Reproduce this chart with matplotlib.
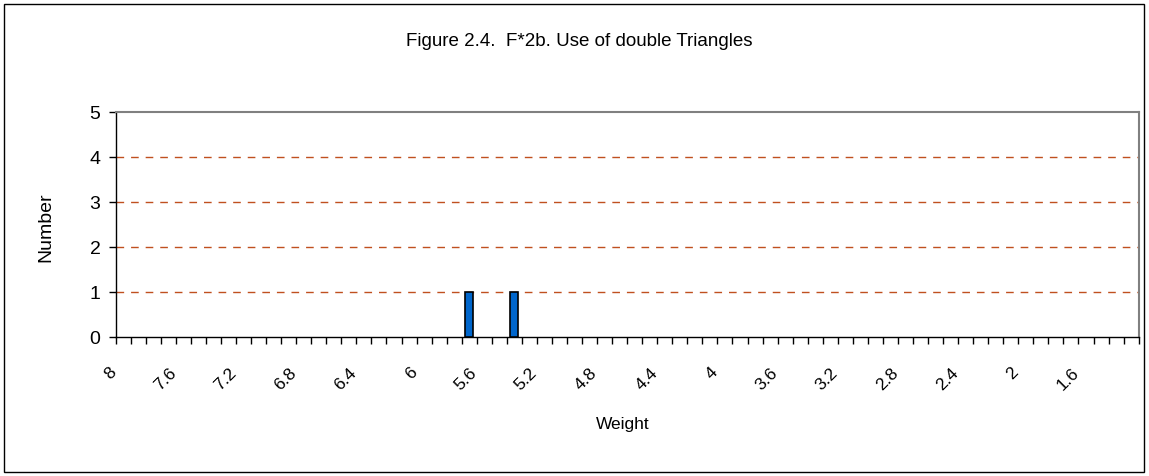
import matplotlib
matplotlib.use("Agg")
import matplotlib.pyplot as plt
import matplotlib.transforms as mtransforms
from matplotlib.patches import Rectangle

# weight classes (categories) and number of fish in each
weights = ["8", "7.9", "7.8", "7.7", "7.6", "7.5", "7.4", "7.3", "7.2", "7.1",
           "7", "6.9", "6.8", "6.7", "6.6", "6.5", "6.4", "6.3", "6.2", "6.1",
           "6", "5.9", "5.8", "5.7", "5.6", "5.5", "5.4", "5.3", "5.2", "5.1",
           "5", "4.9", "4.8", "4.7", "4.6", "4.5", "4.4", "4.3", "4.2", "4.1",
           "4", "3.9", "3.8", "3.7", "3.6", "3.5", "3.4", "3.3", "3.2", "3.1",
           "3", "2.9", "2.8", "2.7", "2.6", "2.5", "2.4", "2.3", "2.2", "2.1",
           "2", "1.9", "1.8", "1.7", "1.6", "1.5", "1.4", "1.3"]
counts = [0, 0, 0, 0, 0, 0, 0, 0, 0, 0,
          0, 0, 0, 0, 0, 0, 0, 0, 0, 0,
          0, 0, 0, 1, 0, 0, 1, 0, 0, 0,
          0, 0, 0, 0, 0, 0, 0, 0, 0, 0,
          0, 0, 0, 0, 0, 0, 0, 0, 0, 0,
          0, 0, 0, 0, 0, 0, 0, 0, 0, 0,
          0, 0, 0, 0, 0, 0, 0, 0]
shown_labels = ["8", "7.6", "7.2", "6.8", "6.4", "6", "5.6", "5.2", "4.8",
                "4.4", "4", "3.6", "3.2", "2.8", "2.4", "2", "1.6"]
y_ticks = [0, 1, 2, 3, 4, 5]

plt.rcParams['font.family'] = ['Liberation Sans', 'DejaVu Sans']

fig = plt.figure(figsize=(11.49, 4.76), dpi=100)
ax = fig.add_axes([0.1007, 0.2914, 0.8903, 0.4723])

# outer chart border
fig.patches.append(Rectangle((0.0035, 0.008), 0.992, 0.983, transform=fig.transFigure,
                             fill=False, edgecolor='black', linewidth=1.0))

pos = list(range(len(weights)))
# no outline on empty classes, otherwise a black stub shows on the axis
edge_w = [1.2 if c > 0 else 0 for c in counts]
ax.bar(pos, counts, width=0.55, color='#0066CC', edgecolor='black', linewidth=edge_w, zorder=3)

ax.set_xlim(-0.5, len(weights) - 0.5)
ax.set_ylim(0, 5)

# gridlines
for y in y_ticks[1:-1]:
    ax.axhline(y, color='#C0501F', linestyle=(0, (5.5, 5)), linewidth=1.0, zorder=1)

# y axis
ax.set_yticks(y_ticks)
ax.tick_params(axis='y', direction='out', length=5, width=1, labelsize=14, pad=6)

# x axis: tick marks between categories, labels every 4th category
ax.set_xticks([p - 0.5 for p in pos] + [len(weights) - 0.5], minor=True)
ax.tick_params(axis='x', which='minor', direction='out', length=5, width=1)
label_pos = [weights.index(w) for w in shown_labels]
ax.set_xticks(label_pos)
ax.set_xticklabels(shown_labels, rotation=45, ha='right', rotation_mode='anchor', fontsize=12.5)
ax.tick_params(axis='x', which='major', length=0, pad=20)
offset = mtransforms.ScaledTranslation(-15 / 100, 0, fig.dpi_scale_trans)
for lbl in ax.get_xticklabels():
    lbl.set_transform(lbl.get_transform() + offset)

for side in ['top', 'right']:
    ax.spines[side].set_color('#808080')
    ax.spines[side].set_linewidth(1.5)
for side in ['left', 'bottom']:
    ax.spines[side].set_color('black')
    ax.spines[side].set_linewidth(1.0)

ax.set_xlabel('Weight', fontsize=12.5)
ax.xaxis.set_label_coords(0.4954, -0.355)
ax.set_ylabel('Number', fontsize=14)
ax.yaxis.set_label_coords(-0.0598, 0.49)

fig.text(0.504, 0.913, 'Figure 2.4.  F*2b. Use of double Triangles', ha='center', va='center',
         fontsize=13.5)

fig.savefig('out.png', dpi=100)
